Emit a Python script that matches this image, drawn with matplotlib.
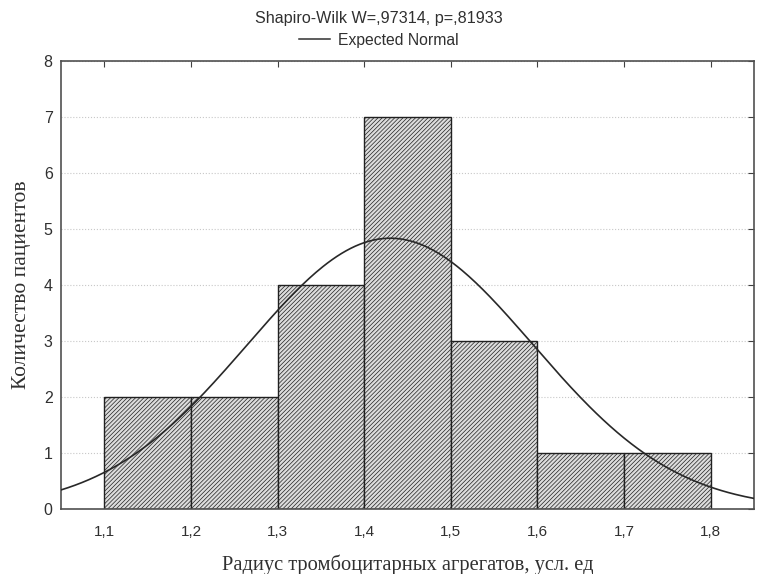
import numpy as np
import matplotlib
matplotlib.use("Agg")
import matplotlib.pyplot as plt
from matplotlib.lines import Line2D

# histogram bins (radius, arbitrary units) and patient counts
bin_edges = [1.1, 1.2, 1.3, 1.4, 1.5, 1.6, 1.7, 1.8]
counts = [2, 2, 4, 7, 3, 1, 1]

# expected normal curve parameters
norm_mean = 1.43
norm_sd = 0.165
n_total = sum(counts)

title = "Shapiro-Wilk W=,97314, p=,81933"
legend_label = "Expected Normal"
x_label = "Радиус тромбоцитарных агрегатов, усл. ед"
y_label = "Количество пациентов"
x_ticks = [1.1, 1.2, 1.3, 1.4, 1.5, 1.6, 1.7, 1.8]
y_ticks = [0, 1, 2, 3, 4, 5, 6, 7, 8]

plt.rcParams['hatch.color'] = '#7a7a7a'
plt.rcParams['hatch.linewidth'] = 0.5

fig = plt.figure(figsize=(7.57, 5.74), dpi=100)
ax = fig.add_axes([0.0806, 0.1132, 0.9154, 0.7805])

widths = np.diff(bin_edges)
ax.bar(bin_edges[:-1], counts, width=widths, align='edge', facecolor='#dcdcdc',
       edgecolor='#202020', linewidth=1.0, hatch='////////', zorder=2)

xs = np.linspace(1.05, 1.85, 300)
bw = widths[0]
ys = n_total * bw / (norm_sd * np.sqrt(2 * np.pi)) * np.exp(-0.5 * ((xs - norm_mean) / norm_sd) ** 2)
ax.plot(xs, ys, color='#282828', linewidth=1.2, zorder=3)

ax.set_xlim(1.05, 1.85)
ax.set_ylim(0, 8)
ax.set_xticks(x_ticks)
ax.set_yticks(y_ticks)
ax.set_xticklabels([("%.1f" % v).replace('.', ',') for v in x_ticks],
                   fontfamily='Liberation Sans', fontsize=11, color='#303030')
ax.set_yticklabels([str(v) for v in y_ticks], fontfamily='Liberation Sans',
                   fontsize=11.5, color='#303030')
ax.tick_params(axis='both', which='both', length=0)
ax.tick_params(axis='x', pad=11.5)
ax.tick_params(axis='y', pad=6)
ax.tick_params(top=True, right=True, direction='in', length=4, color='#404040')
ax.tick_params(bottom=False, left=False)
ax.yaxis.grid(True, linestyle=':', color='#c8c8c8', linewidth=0.8, zorder=0)
ax.set_axisbelow(True)
for s in ax.spines.values():
    s.set_color('#505050')
    s.set_linewidth(1.2)

ax.set_xlabel(x_label, fontfamily='Liberation Serif', fontsize=14.8, color='#303030', labelpad=11)
ax.set_ylabel(y_label, fontfamily='Liberation Serif', fontsize=15.5, color='#303030', labelpad=9)

fig.text(0.5, 0.967, title, ha='center', va='center', fontfamily='Liberation Sans',
         fontsize=11.6, color='#303030')
handle = Line2D([], [], color='#303030', linewidth=1.1)
fig.legend([handle], [legend_label], loc='center', bbox_to_anchor=(0.5, 0.930),
           frameon=False, prop={'family': 'Liberation Sans', 'size': 11.3},
           handlelength=2.0, handletextpad=0.5, labelcolor='#303030')

fig.savefig("out.png", dpi=100)
